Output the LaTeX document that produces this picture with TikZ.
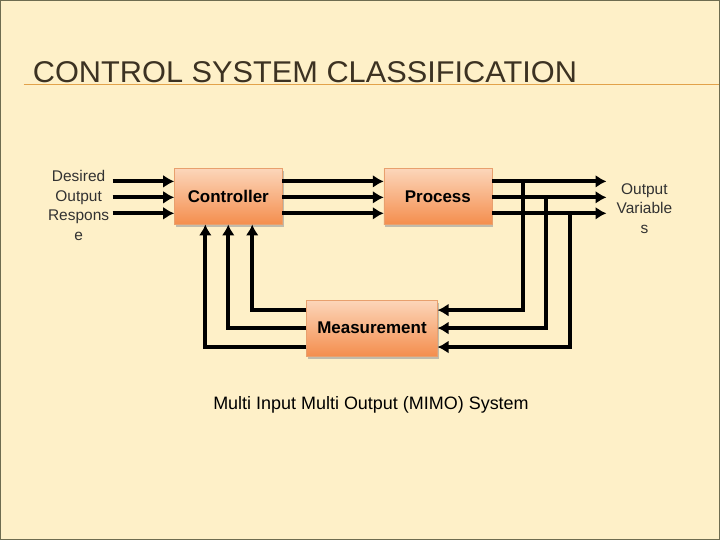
\documentclass[tikz,border=0pt]{standalone}
\usepackage{fontspec}
\usepackage{graphicx}
\setmainfont{Liberation Sans}
\usetikzlibrary{arrows.meta,shadows}

\definecolor{slidebg}{RGB}{254,240,200}
\definecolor{slideframe}{RGB}{110,108,80}
\definecolor{titletext}{RGB}{60,50,34}
\definecolor{titlerule}{RGB}{226,162,74}
\definecolor{boxtop}{RGB}{252,214,186}
\definecolor{boxbottom}{RGB}{244,142,78}
\definecolor{boxline}{RGB}{232,160,110}
\definecolor{labeltext}{RGB}{50,50,50}

\tikzset{
  block/.style={draw=boxline, top color=boxtop, bottom color=boxbottom,
    font=\fontsize{17}{20}\selectfont\bfseries,
    drop shadow={shadow xshift=1.5pt, shadow yshift=-3pt, fill=black!40, opacity=.6}},
  sig/.style={line width=4pt, -{Latex[length=11pt,width=13pt]}},
  lbl/.style={align=center, text=labeltext, font=\fontsize{15.5}{19.5}\selectfont},
}

\begin{document}
\begin{tikzpicture}[x=1pt,y=-1pt]

\fill [slidebg] (0,0) rectangle (720,540);
\draw [slideframe, line width=1.5pt] (0,0) rectangle (720,540);
\useasboundingbox (0,0) rectangle (720,540);

\node (title) at (32,82) [anchor=base west, inner sep=0pt, text=titletext] {\resizebox{545pt}{21pt}{CONTROL SYSTEM CLASSIFICATION}};
\draw [titlerule, line width=1.2pt] (23,84) -- (720,84);

\node (ctrl) at (228,196) [block, minimum width=108pt, minimum height=56pt] {Controller};
\node (proc) at (438,196) [block, minimum width=108pt, minimum height=56pt] {Process};
\node (meas) at (372,328) [block, minimum width=131pt, minimum height=56pt] {Measurement};

% signal rows
\coordinate (r1) at (0,181);
\coordinate (r2) at (0,197);
\coordinate (r3) at (0,213);
\coordinate (in1) at (112,181);
\coordinate (in2) at (112,197);
\coordinate (in3) at (112,213);
\coordinate (out1) at (607,181);
\coordinate (out2) at (607,197);
\coordinate (out3) at (607,213);

\path
    (in1) edge [sig] (ctrl.west |- r1)
    (in2) edge [sig] (ctrl.west |- r2)
    (in3) edge [sig] (ctrl.west |- r3)
    (ctrl.east |- r1) edge [sig] (proc.west |- r1)
    (ctrl.east |- r2) edge [sig] (proc.west |- r2)
    (ctrl.east |- r3) edge [sig] (proc.west |- r3)
    (proc.east |- r1) edge [sig] (out1)
    (proc.east |- r2) edge [sig] (out2)
    (proc.east |- r3) edge [sig] (out3)
;

% feedback
\coordinate (m1) at (0,310);
\coordinate (m2) at (0,328);
\coordinate (m3) at (0,347);
\coordinate (fb1) at (523,181);
\coordinate (fb2) at (546,197);
\coordinate (fb3) at (570,213);
\coordinate (c1) at (252,0);
\coordinate (c2) at (228,0);
\coordinate (c3) at (205,0);

\draw [sig] (fb1) |- (meas.east |- m1);
\draw [sig] (fb2) |- (meas.east |- m2);
\draw [sig] (fb3) |- (meas.east |- m3);
\draw [sig] (meas.west |- m1) -| (ctrl.south -| c1);
\draw [sig] (meas.west |- m2) -| (ctrl.south -| c2);
\draw [sig] (meas.west |- m3) -| (ctrl.south -| c3);

\node (desired) at (78,205) [lbl] {Desired\\Output\\Respons\\e};
\node (outvar) at (645,208) [lbl] {Output\\Variable\\s};

\node (caption) at (371,405) [font=\fontsize{18}{21}\selectfont] {Multi Input Multi Output (MIMO) System};

\end{tikzpicture}
\end{document}
